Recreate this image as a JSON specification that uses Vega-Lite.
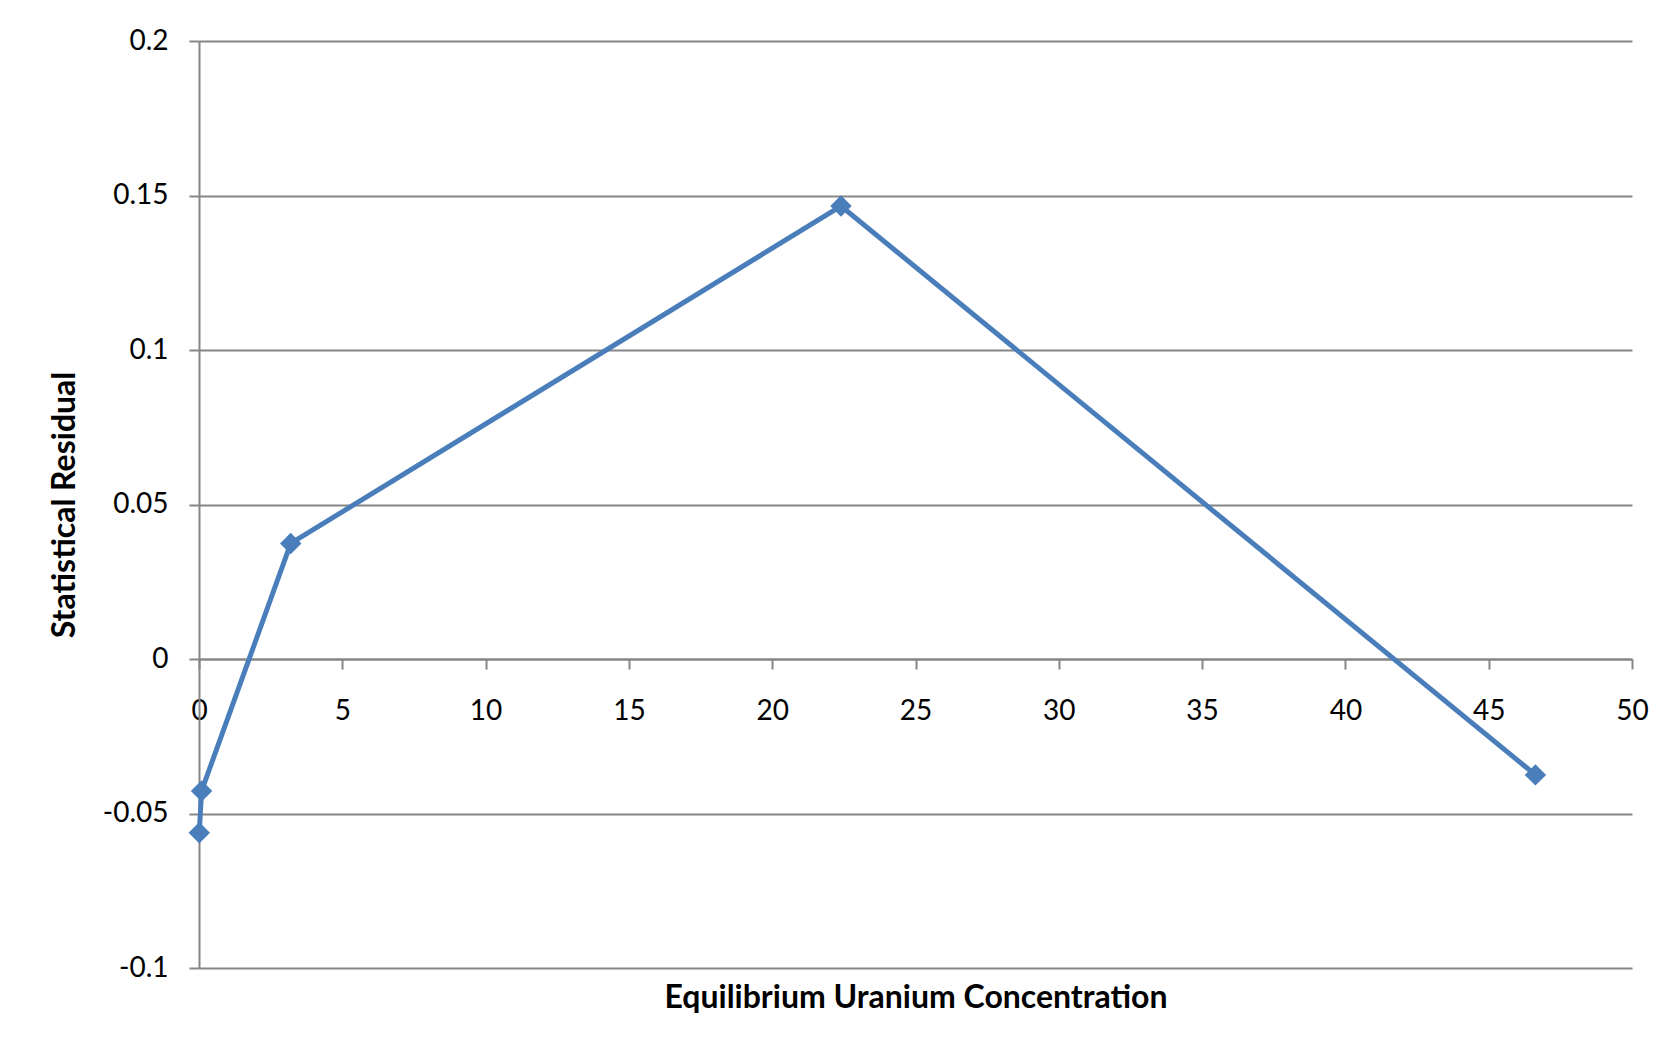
{
  "$schema": "https://vega.github.io/schema/vega-lite/v6.json",
  "width": 1433,
  "height": 927,
  "autosize": {"type": "none"},
  "padding": {"left": 199, "top": 41, "right": 43, "bottom": 77},
  "background": "white",
  "config": {"view": {"stroke": null}, "font": "Lato"},
  "data": {
    "values": [
      {"concentration": 0.01, "residual": -0.0562},
      {"concentration": 0.09, "residual": -0.0427},
      {"concentration": 3.2, "residual": 0.0374},
      {"concentration": 22.4, "residual": 0.1466},
      {"concentration": 46.63, "residual": -0.0375}
    ]
  },
  "mark": {
    "type": "line",
    "color": "#4A7EBB",
    "strokeWidth": 5,
    "point": {"shape": "diamond", "size": 460, "filled": true, "color": "#4A7EBB", "opacity": 1}
  },
  "encoding": {
    "x": {
      "field": "concentration",
      "type": "quantitative",
      "scale": {"domain": [0, 50], "nice": false, "zero": false},
      "axis": {
        "values": [0, 5, 10, 15, 20, 25, 30, 35, 40, 45, 50],
        "offset": -309,
        "grid": false,
        "domainColor": "#868686",
        "domainWidth": 2,
        "tickColor": "#868686",
        "tickWidth": 2,
        "tickSize": 10,
        "labelFontSize": 28,
        "labelPadding": 28,
        "labelColor": "black",
        "labelFlush": false,
        "labelOverlap": false,
        "title": "Equilibrium Uranium Concentration",
        "titleFontSize": 32,
        "titleFontWeight": "bold",
        "titleColor": "black",
        "titleBaseline": "alphabetic",
        "titleY": 348
      }
    },
    "y": {
      "field": "residual",
      "type": "quantitative",
      "scale": {"domain": [-0.1, 0.2], "nice": false, "zero": false},
      "axis": {
        "values": [-0.1, -0.05, 0, 0.05, 0.1, 0.15, 0.2],
        "labelExpr": "'' + datum.value",
        "grid": true,
        "gridColor": "#868686",
        "gridWidth": 2,
        "domainColor": "#868686",
        "domainWidth": 2,
        "tickColor": "#868686",
        "tickWidth": 2,
        "tickSize": 10,
        "labelFontSize": 28,
        "labelPadding": 21,
        "labelColor": "black",
        "labelOverlap": false,
        "labelFlush": false,
        "title": "Statistical Residual",
        "titleFontSize": 32,
        "titleFontWeight": "bold",
        "titleColor": "black",
        "titleBaseline": "alphabetic",
        "titleX": -125
      }
    }
  }
}
